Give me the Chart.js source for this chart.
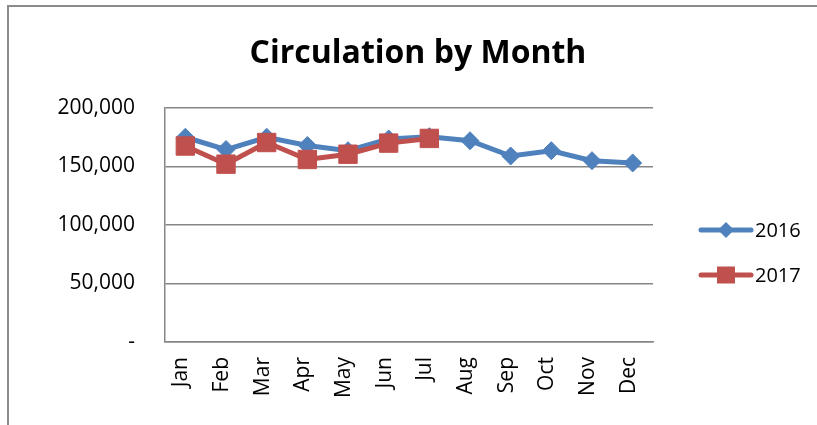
<!DOCTYPE html>
<html><head><meta charset="utf-8">
<script src="https://cdn.jsdelivr.net/npm/chart.js@4.4.0/dist/chart.umd.min.js"></script>
<style>
html,body{margin:0;padding:0;background:#fff;overflow:hidden;}
#wrap{position:relative;width:817px;height:425px;overflow:hidden;}
#frame{position:absolute;left:7px;top:5px;width:830px;height:440px;border-top:2px solid #8c8c8c;border-left:2px solid #8c8c8c;pointer-events:none;}
canvas{position:absolute;left:0;top:0;}
</style></head><body>
<div id="wrap"><canvas id="c" width="817" height="425"></canvas><div id="frame"></div></div>
<script>
const chartTitle = 'Circulation by Month';
const months = ['Jan','Feb','Mar','Apr','May','Jun','Jul','Aug','Sep','Oct','Nov','Dec'];
const seriesNames = ['2016', '2017'];
const values2016 = [175000, 164500, 175000, 168000, 163500, 173500, 175500, 172000, 159000, 163500, 155000, 153000];
const values2017 = [167500, 152000, 170500, 156000, 160500, 170000, 174000];
const yTickValues = [0, 50000, 100000, 150000, 200000];

const BLUE = '#4F81BD';
const RED = '#C0504D';
const GRID = '#868686';

Chart.defaults.font.family = '"Open Sans", sans-serif';
Chart.defaults.font.size = 21;
Chart.defaults.color = '#000';

const titlePlugin = {
  id: 'customTitle',
  afterDraw(chart) {
    const ctx = chart.ctx;
    ctx.save();
    ctx.font = 'bold 32px "Open Sans", sans-serif';
    ctx.fillStyle = '#000';
    ctx.textAlign = 'center';
    ctx.textBaseline = 'alphabetic';
    ctx.fillText(chartTitle, 418, 63);
    ctx.restore();
  }
};

const legendPlugin = {
  id: 'customLegend',
  afterDraw(chart) {
    const ctx = chart.ctx;
    const ds = chart.data.datasets;
    const rows = [230, 275];
    ds.forEach((d, i) => {
      const y = rows[i];
      ctx.save();
      ctx.strokeStyle = d.borderColor;
      ctx.lineWidth = 5;
      ctx.lineCap = 'round';
      ctx.beginPath();
      ctx.moveTo(701, y);
      ctx.lineTo(751, y);
      ctx.stroke();
      ctx.fillStyle = d.backgroundColor;
      ctx.beginPath();
      if (d.pointStyle === 'rectRot') {
        const r = 8;
        ctx.moveTo(726, y - r); ctx.lineTo(726 + r, y); ctx.lineTo(726, y + r); ctx.lineTo(726 - r, y); ctx.closePath();
      } else {
        ctx.rect(717, y - 8.5, 18, 17);
      }
      ctx.fill();
      ctx.fillStyle = '#000';
      ctx.font = '20px "Open Sans", sans-serif';
      ctx.textAlign = 'left';
      ctx.textBaseline = 'middle';
      ctx.fillText(d.label, 755, y + 1);
      ctx.restore();
    });
  }
};

new Chart(document.getElementById('c'), {
  type: 'line',
  data: {
    labels: months,
    datasets: [
      {
        label: seriesNames[0],
        data: values2016,
        borderColor: BLUE,
        backgroundColor: BLUE,
        borderWidth: 5,
        pointStyle: 'rectRot',
        pointRadius: 9,
        pointBorderWidth: 1,
        pointBorderColor: BLUE,
        tension: 0,
        order: 1
      },
      {
        label: seriesNames[1],
        data: values2017,
        borderColor: RED,
        backgroundColor: RED,
        borderWidth: 5,
        pointStyle: 'rect',
        pointRadius: 13,
        pointBorderWidth: 1,
        pointBorderColor: RED,
        tension: 0,
        order: 0
      }
    ]
  },
  options: {
    responsive: false,
    animation: false,
    devicePixelRatio: 1,
    layout: { padding: { top: 108, left: 0, right: 164, bottom: 0 } },
    plugins: {
      legend: { display: false },
      title: { display: false },
      tooltip: { enabled: false }
    },
    scales: {
      x: {
        offset: true,
        grid: { display: false, drawTicks: false },
        border: { display: true, color: GRID, width: 1.5 },
        ticks: { minRotation: 90, maxRotation: 90, padding: 15, labelOffset: -4, autoSkip: false },
        afterFit: s => { s.height = 83; }
      },
      y: {
        min: 0,
        max: 200000,
        afterBuildTicks: s => { s.ticks = yTickValues.map(v => ({ value: v })); },
        grid: { color: GRID, lineWidth: 1.5, drawTicks: false },
        border: { display: true, color: GRID, width: 1.5 },
        ticks: {
          padding: 30,
          callback: v => v === 0 ? '-' : v.toLocaleString('en-US')
        },
        afterFit: s => { s.width = 165; }
      }
    }
  },
  plugins: [titlePlugin, legendPlugin]
});
</script>
</body></html>
